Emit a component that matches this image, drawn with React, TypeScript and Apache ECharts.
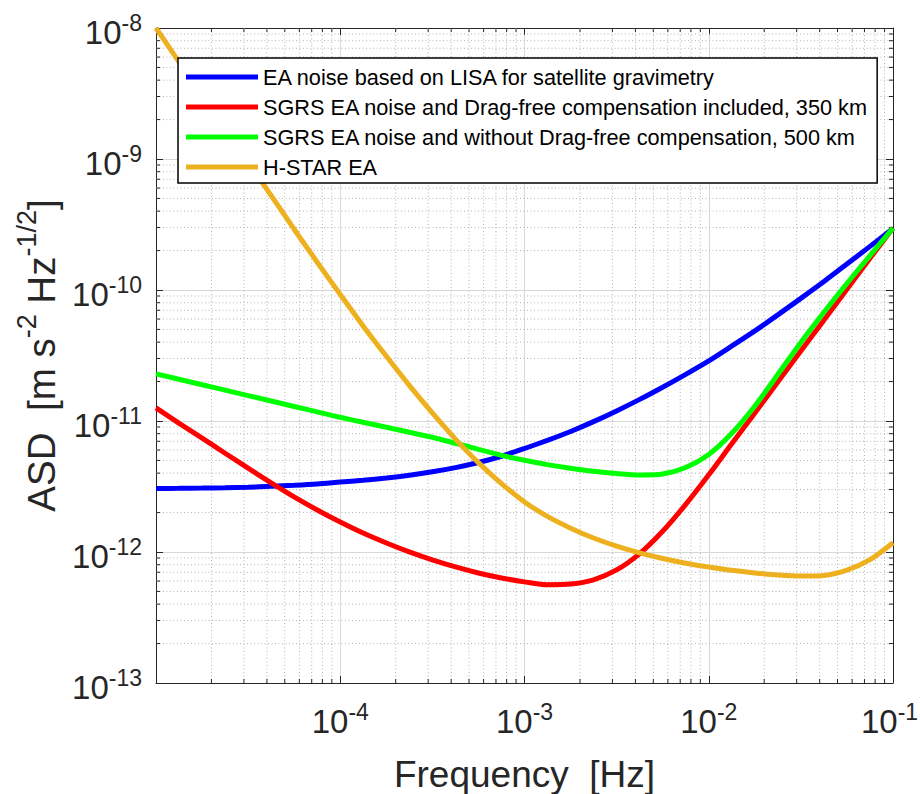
import React, { useEffect, useRef } from 'react';
import * as echarts from 'echarts';

// ---- data (1/8-decade steps) ----
const FREQ = [
  1e-5, 1.33e-5, 1.78e-5, 2.37e-5, 3.16e-5, 4.22e-5, 5.62e-5, 7.5e-5,
  1e-4, 1.33e-4, 1.78e-4, 2.37e-4, 3.16e-4, 4.22e-4, 5.62e-4, 7.5e-4,
  1e-3, 1.33e-3, 1.78e-3, 2.37e-3, 3.16e-3, 4.22e-3, 5.62e-3, 7.5e-3,
  1e-2, 1.33e-2, 1.78e-2, 2.37e-2, 3.16e-2, 4.22e-2, 5.62e-2, 7.5e-2, 1e-1,
];
const EA_LISA = [
  3.055e-12, 3.062e-12, 3.076e-12, 3.097e-12, 3.126e-12, 3.17e-12, 3.228e-12, 3.304e-12,
  3.42e-12, 3.532e-12, 3.673e-12, 3.855e-12, 4.093e-12, 4.406e-12, 4.819e-12, 5.383e-12,
  6.166e-12, 7.112e-12, 8.318e-12, 9.886e-12, 1.194e-11, 1.462e-11, 1.811e-11, 2.27e-11,
  2.877e-11, 3.724e-11, 4.875e-11, 6.457e-11, 8.63e-11, 1.161e-10, 1.578e-10, 2.153e-10, 2.951e-10,
];
const SGRS_DF_350 = [
  1.259e-11, 9.638e-12, 7.396e-12, 5.675e-12, 4.365e-12, 3.373e-12, 2.636e-12, 2.094e-12,
  1.694e-12, 1.396e-12, 1.172e-12, 1.002e-12, 8.71e-13, 7.691e-13, 6.918e-13, 6.339e-13,
  5.916e-13, 5.623e-13, 5.689e-13, 6.138e-13, 7.295e-13, 9.727e-13, 1.439e-12, 2.307e-12,
  3.882e-12, 6.668e-12, 1.151e-11, 1.986e-11, 3.42e-11, 5.888e-11, 1.014e-10, 1.746e-10, 2.97e-10,
];
const SGRS_NODF_500 = [
  2.291e-11, 2.084e-11, 1.892e-11, 1.722e-11, 1.563e-11, 1.422e-11, 1.291e-11, 1.175e-11,
  1.067e-11, 9.772e-12, 8.954e-12, 8.204e-12, 7.516e-12, 6.761e-12, 6.081e-12, 5.47e-12,
  5.012e-12, 4.645e-12, 4.355e-12, 4.13e-12, 3.972e-12, 3.873e-12, 3.936e-12, 4.416e-12,
  5.559e-12, 8.035e-12, 1.303e-11, 2.265e-11, 3.981e-11, 6.761e-11, 1.122e-10, 1.832e-10, 2.972e-10,
];
const HSTAR = [
  1.0e-8, 5.546e-9, 3.076e-9, 1.706e-9, 9.462e-10, 5.248e-10, 2.911e-10, 1.629e-10,
  9.247e-11, 5.321e-11, 3.119e-11, 1.871e-11, 1.153e-11, 7.278e-12, 4.808e-12, 3.327e-12,
  2.41e-12, 1.871e-12, 1.521e-12, 1.279e-12, 1.109e-12, 9.84e-13, 8.913e-13, 8.204e-13,
  7.674e-13, 7.244e-13, 6.918e-13, 6.683e-13, 6.561e-13, 6.622e-13, 7.261e-13, 8.73e-13, 1.178e-12,
];

const SERIES_NAMES = [
  'EA noise based on LISA for satellite gravimetry',
  'SGRS EA noise and Drag-free compensation included, 350 km',
  'SGRS EA noise and without Drag-free compensation, 500 km',
  'H-STAR EA',
];
const SERIES_VALUES = [EA_LISA, SGRS_DF_350, SGRS_NODF_500, HSTAR];
const SERIES_COLORS = ['#0000ff', '#ff0000', '#00ff00', '#edb120'];

const X_MIN = 1e-5;
const X_MAX = 1e-1;
const Y_MIN = 1e-13;
const Y_MAX = 1e-8;
const X_DECADES = [1e-5, 1e-4, 1e-3, 1e-2];
const Y_DECADES = [1e-13, 1e-12, 1e-11, 1e-10, 1e-9];
const MINOR_MULT = [2, 3, 4, 5, 6, 7, 8, 9];

const X_NAME = 'Frequency\u00a0\u00a0[Hz]';
const Y_NAME = '{b|ASD\u00a0\u00a0[m s}{s|-2}{b| Hz}{s|-1/2}{b|]}';

const FONT = '"Liberation Sans", Arial, Helvetica, sans-serif';
const TXT = '#262626';
const AXIS = '#262626';
const MAJOR_GRID = '#d8d8d8';
const MINOR_GRID = '#b4b4b4';

const MINOR_X: number[] = [];
X_DECADES.forEach((d) => MINOR_MULT.forEach((m) => MINOR_X.push(d * m)));
const MINOR_Y: number[] = [];
Y_DECADES.forEach((d) => MINOR_MULT.forEach((m) => MINOR_Y.push(d * m)));

const expOf = (v: number) => Math.round(Math.log10(v));

const tickRich = {
  b: { fontSize: 33, fontFamily: FONT, color: TXT, lineHeight: 34, padding: [9, 0, 0, 0] },
  s: { fontSize: 23, fontFamily: FONT, color: TXT, lineHeight: 24, verticalAlign: 'top' },
  e: { fontSize: 23, fontFamily: FONT, color: TXT, lineHeight: 24, verticalAlign: 'top', padding: [0, 7, 0, 0] },
};

export default function App() {
  const ref = useRef<HTMLDivElement>(null);

  useEffect(() => {
    if (!ref.current) return;
    const chart = echarts.init(ref.current, undefined, { renderer: 'svg' });

    const lineSeries = SERIES_NAMES.map((name, i) => ({
      name,
      type: 'line',
      data: FREQ.map((f, k) => [f, SERIES_VALUES[i][k]]),
      showSymbol: false,
      smooth: 0.25,
      lineStyle: { color: SERIES_COLORS[i], width: 5 },
      itemStyle: { color: SERIES_COLORS[i] },
      z: 3,
      silent: true,
    }));

    const minorXSeries = {
      type: 'custom',
      name: 'minorX',
      silent: true,
      z: 1,
      data: MINOR_X.map((v) => [v, 1e-10]),
      renderItem: (params: any, api: any) => {
        const px = api.coord([api.value(0), 1e-10])[0];
        const cs = params.coordSys;
        const top = cs.y;
        const bot = cs.y + cs.height;
        return {
          type: 'group',
          children: [
            { type: 'line', shape: { x1: px, y1: top, x2: px, y2: bot }, style: { stroke: MINOR_GRID, lineWidth: 1, lineDash: [1, 2.5] } },
            { type: 'line', shape: { x1: px, y1: bot, x2: px, y2: bot - 4 }, style: { stroke: AXIS, lineWidth: 1 } },
            { type: 'line', shape: { x1: px, y1: top, x2: px, y2: top + 4 }, style: { stroke: AXIS, lineWidth: 1 } },
          ],
        };
      },
    };

    const minorYSeries = {
      type: 'custom',
      name: 'minorY',
      silent: true,
      z: 1,
      data: MINOR_Y.map((v) => [1e-3, v]),
      renderItem: (params: any, api: any) => {
        const py = api.coord([1e-3, api.value(1)])[1];
        const cs = params.coordSys;
        const left = cs.x;
        const right = cs.x + cs.width;
        return {
          type: 'group',
          children: [
            { type: 'line', shape: { x1: left, y1: py, x2: right, y2: py }, style: { stroke: MINOR_GRID, lineWidth: 1, lineDash: [1, 2.5] } },
            { type: 'line', shape: { x1: left, y1: py, x2: left + 4, y2: py }, style: { stroke: AXIS, lineWidth: 1 } },
            { type: 'line', shape: { x1: right, y1: py, x2: right - 4, y2: py }, style: { stroke: AXIS, lineWidth: 1 } },
          ],
        };
      },
    };

    chart.setOption({
      animation: false,
      backgroundColor: '#ffffff',
      grid: { left: 156, right: 27, top: 28, bottom: 111, containLabel: false, outerBoundsMode: 'none' },
      legend: {
        data: SERIES_NAMES,
        orient: 'vertical',
        left: 178,
        top: 58,
        padding: [7, 9, 4, 8],
        itemGap: 6,
        itemWidth: 72,
        itemHeight: 5,
        icon: 'rect',
        selectedMode: false,
        backgroundColor: '#ffffff',
        borderColor: '#000000',
        borderWidth: 1.5,
        textStyle: { fontFamily: FONT, fontSize: 21.7, color: '#000000', lineHeight: 24 },
      },
      xAxis: [
        {
          type: 'log',
          logBase: 10,
          min: X_MIN,
          max: X_MAX,
          position: 'bottom',
          name: X_NAME,
          nameLocation: 'middle',
          nameGap: 73,
          nameTextStyle: { fontFamily: FONT, fontSize: 37, color: TXT, lineHeight: 37 },
          axisLine: { show: true, lineStyle: { color: AXIS, width: 1 } },
          axisTick: { show: true, inside: true, length: 7, lineStyle: { color: AXIS } },
          axisLabel: {
            margin: 17,
            formatter: (v: number) => {
              const e = expOf(v);
              if (e === -5) return '';
              if (v >= X_MAX * 0.999) return `{b|10}{e|${e}}`;
              return `{b|10}{s|${e}}`;
            },
            rich: tickRich,
          },
          splitLine: { show: true, lineStyle: { color: MAJOR_GRID, width: 1 } },
        },
        {
          type: 'log',
          logBase: 10,
          min: X_MIN,
          max: X_MAX,
          position: 'top',
          axisLine: { show: true, lineStyle: { color: AXIS, width: 1 } },
          axisTick: { show: true, inside: true, length: 7, lineStyle: { color: AXIS } },
          axisLabel: { show: false },
          splitLine: { show: false },
        },
      ],
      yAxis: [
        {
          type: 'log',
          logBase: 10,
          min: Y_MIN,
          max: Y_MAX,
          position: 'left',
          name: Y_NAME,
          nameLocation: 'middle',
          nameRotate: 90,
          nameGap: 98,
          nameTextStyle: {
            rich: {
              b: { fontSize: 38.5, fontFamily: FONT, color: TXT, lineHeight: 40, padding: [16, 0, 0, 0] },
              s: { fontSize: 27, fontFamily: FONT, color: TXT, lineHeight: 28, verticalAlign: 'top' },
            },
          },
          axisLine: { show: true, lineStyle: { color: AXIS, width: 1 } },
          axisTick: { show: true, inside: true, length: 7, lineStyle: { color: AXIS } },
          axisLabel: {
            margin: 14,
            formatter: (v: number) => `{b|10}{s|${expOf(v)}}`,
            rich: tickRich,
          },
          splitLine: { show: true, lineStyle: { color: MAJOR_GRID, width: 1 } },
        },
        {
          type: 'log',
          logBase: 10,
          min: Y_MIN,
          max: Y_MAX,
          position: 'right',
          axisLine: { show: true, lineStyle: { color: AXIS, width: 1 } },
          axisTick: { show: true, inside: true, length: 7, lineStyle: { color: AXIS } },
          axisLabel: { show: false },
          splitLine: { show: false },
        },
      ],
      series: [minorXSeries, minorYSeries, ...lineSeries],
    });

    return () => chart.dispose();
  }, []);

  return (
    <div
      ref={ref}
      style={{ position: 'absolute', left: 0, top: 0, width: 920, height: 794, background: '#fff' }}
    />
  );
}
